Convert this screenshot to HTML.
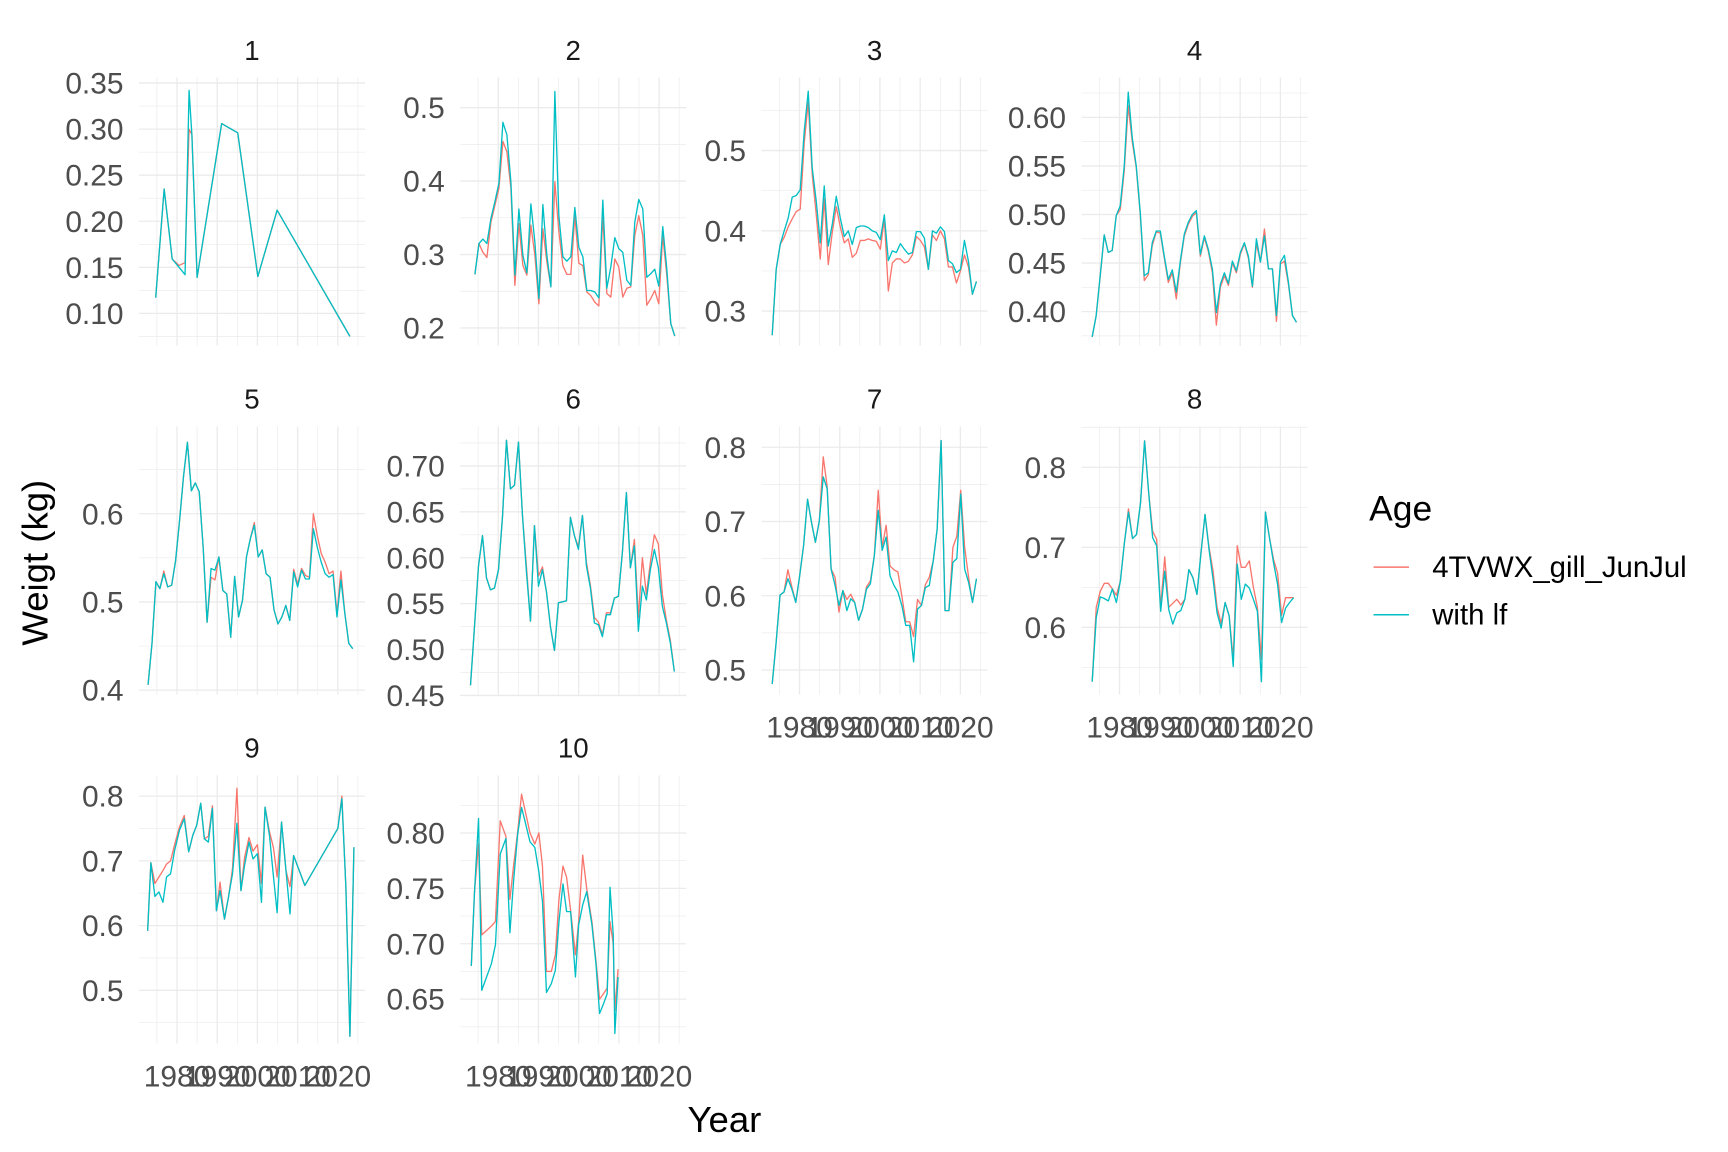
<!DOCTYPE html>
<html><head><meta charset="utf-8"><style>
html,body{margin:0;padding:0;background:#fff;}
svg{display:block;font-family:"Liberation Sans",Arial,sans-serif;}
</style></head><body>
<svg id="chart" width="1728" height="1152" viewBox="0 0 1560 1040" xmlns="http://www.w3.org/2000/svg">
<g id="panels"></g>
<text x="0" y="0" transform="translate(43,508) rotate(-90)" text-anchor="middle" font-size="33" fill="#000">Weigt (kg)</text>
<text x="654" y="1022" text-anchor="middle" font-size="33" fill="#000">Year</text>
<g>
<text x="1236" y="470" font-size="32" fill="#000">Age</text>
<line x1="1240" y1="512" x2="1272" y2="512" stroke="#F8766D" stroke-width="1.3"/>
<text x="1293" y="521" font-size="26.5" fill="#000">4TVWX_gill_JunJul</text>
<line x1="1240" y1="555" x2="1272" y2="555" stroke="#00BFC4" stroke-width="1.3"/>
<text x="1293" y="564" font-size="26.5" fill="#000">with lf</text>
</g>
</svg>
<script>
// ---- data ----
const p1Years=[1974.7,1976.8,1978.8,1980.5,1982,1983,1983.7,1985,1991.1,1995.1,2000.1,2004.9,2023];
const p1Teal=[0.117,0.235,0.159,0.150,0.142,0.342,0.294,0.139,0.306,0.296,0.140,0.212,0.075];
const p1Red=[0.117,0.235,0.159,0.152,0.155,0.300,0.294,0.139,0.306,0.296,0.140,0.212,0.075];
const p2Range=[1974.2,2023.9];
const p2Teal=[0.273,0.315,0.321,0.315,0.349,0.372,0.397,0.480,0.463,0.399,0.272,0.362,0.299,0.275,0.369,0.317,0.240,0.368,0.299,0.256,0.522,0.353,0.297,0.291,0.297,0.364,0.310,0.297,0.251,0.251,0.249,0.241,0.374,0.254,0.283,0.323,0.308,0.303,0.265,0.258,0.344,0.375,0.362,0.269,0.274,0.280,0.257,0.338,0.281,0.206,0.189];
const p2Red=[0.273,0.315,0.303,0.296,0.344,0.367,0.390,0.454,0.440,0.390,0.258,0.342,0.285,0.272,0.340,0.299,0.233,0.335,0.290,0.256,0.399,0.331,0.285,0.273,0.273,0.353,0.288,0.285,0.249,0.244,0.235,0.230,0.353,0.247,0.242,0.294,0.283,0.242,0.254,0.256,0.326,0.353,0.326,0.231,0.240,0.251,0.233,0.326,0.272,0.206,0.189];
const p3Range=[1973.2,2024];
const p3Teal=[0.270,0.352,0.383,0.400,0.416,0.442,0.444,0.451,0.524,0.574,0.478,0.437,0.385,0.456,0.381,0.408,0.443,0.416,0.393,0.400,0.383,0.404,0.406,0.406,0.404,0.400,0.398,0.389,0.420,0.363,0.375,0.373,0.384,0.377,0.371,0.373,0.399,0.399,0.391,0.352,0.400,0.397,0.405,0.399,0.363,0.359,0.348,0.352,0.388,0.362,0.321,0.337];
const p3Red=[0.270,0.352,0.383,0.392,0.405,0.415,0.424,0.427,0.510,0.560,0.470,0.420,0.365,0.440,0.358,0.398,0.430,0.405,0.385,0.390,0.367,0.372,0.388,0.388,0.390,0.388,0.387,0.377,0.415,0.325,0.360,0.365,0.365,0.360,0.362,0.370,0.393,0.388,0.380,0.352,0.395,0.388,0.400,0.390,0.355,0.355,0.335,0.350,0.370,0.355,0.321,0.337];
const p4Range=[1973.2,2024];
const p4Teal=[0.374,0.396,0.437,0.479,0.461,0.463,0.499,0.509,0.550,0.626,0.579,0.550,0.502,0.437,0.440,0.471,0.483,0.483,0.457,0.433,0.443,0.420,0.452,0.480,0.492,0.500,0.504,0.459,0.478,0.464,0.444,0.399,0.428,0.440,0.429,0.452,0.442,0.461,0.471,0.457,0.426,0.475,0.451,0.478,0.444,0.444,0.396,0.451,0.458,0.430,0.396,0.389];
const p4Red=[0.374,0.396,0.437,0.479,0.461,0.463,0.499,0.505,0.545,0.612,0.575,0.548,0.500,0.432,0.438,0.468,0.482,0.481,0.455,0.430,0.440,0.413,0.450,0.478,0.490,0.498,0.502,0.457,0.476,0.462,0.440,0.386,0.425,0.437,0.427,0.450,0.440,0.459,0.470,0.455,0.425,0.470,0.451,0.485,0.444,0.444,0.390,0.449,0.452,0.428,0.396,0.389];
const p5Range=[1972.8,2023.7];
const p5Teal=[0.406,0.453,0.523,0.515,0.532,0.517,0.519,0.547,0.592,0.642,0.681,0.626,0.635,0.625,0.562,0.477,0.538,0.536,0.551,0.513,0.509,0.460,0.529,0.483,0.502,0.551,0.572,0.587,0.551,0.559,0.532,0.528,0.491,0.475,0.483,0.496,0.479,0.534,0.517,0.536,0.526,0.526,0.583,0.562,0.545,0.532,0.528,0.531,0.483,0.525,0.487,0.453,0.447];
const p5Red=[0.406,0.453,0.523,0.515,0.535,0.517,0.519,0.547,0.592,0.642,0.681,0.626,0.635,0.625,0.562,0.477,0.528,0.525,0.551,0.513,0.509,0.460,0.529,0.483,0.502,0.551,0.572,0.590,0.551,0.559,0.532,0.528,0.491,0.475,0.483,0.496,0.479,0.537,0.520,0.538,0.530,0.528,0.600,0.575,0.555,0.545,0.532,0.535,0.487,0.535,0.487,0.453,0.447];
const p6Range=[1973.1,2023.8];
const p6Teal=[0.461,0.525,0.591,0.624,0.578,0.565,0.567,0.587,0.644,0.728,0.675,0.679,0.726,0.646,0.584,0.531,0.635,0.569,0.587,0.563,0.525,0.499,0.551,0.552,0.553,0.644,0.624,0.609,0.646,0.591,0.567,0.529,0.527,0.514,0.538,0.538,0.556,0.558,0.606,0.671,0.589,0.613,0.520,0.569,0.554,0.587,0.609,0.589,0.547,0.529,0.507,0.476];
const p6Red=[0.461,0.525,0.591,0.624,0.578,0.565,0.567,0.587,0.644,0.728,0.675,0.679,0.726,0.646,0.590,0.531,0.635,0.580,0.590,0.563,0.525,0.499,0.551,0.552,0.553,0.644,0.624,0.612,0.646,0.595,0.570,0.535,0.530,0.516,0.540,0.540,0.556,0.558,0.606,0.671,0.589,0.620,0.535,0.600,0.560,0.595,0.625,0.615,0.560,0.532,0.510,0.476];
const p7Range=[1973.2,2024];
const p7Teal=[0.481,0.537,0.601,0.605,0.623,0.609,0.591,0.627,0.668,0.730,0.699,0.672,0.701,0.760,0.744,0.636,0.614,0.587,0.607,0.580,0.596,0.591,0.567,0.582,0.609,0.616,0.654,0.715,0.661,0.679,0.627,0.614,0.605,0.587,0.560,0.560,0.511,0.582,0.587,0.611,0.614,0.647,0.690,0.809,0.580,0.580,0.645,0.650,0.737,0.636,0.618,0.591,0.623];
const p7Red=[0.481,0.537,0.601,0.605,0.635,0.612,0.591,0.627,0.668,0.730,0.699,0.672,0.701,0.787,0.747,0.636,0.625,0.578,0.607,0.595,0.602,0.591,0.567,0.582,0.612,0.620,0.654,0.742,0.665,0.695,0.640,0.635,0.632,0.600,0.565,0.565,0.545,0.595,0.587,0.615,0.625,0.647,0.690,0.809,0.580,0.580,0.665,0.680,0.742,0.665,0.625,0.591,0.623];
const p8Range=[1973.2,2023.3];
const p8Teal=[0.532,0.612,0.638,0.636,0.633,0.648,0.631,0.658,0.706,0.744,0.711,0.716,0.756,0.833,0.769,0.712,0.702,0.620,0.670,0.622,0.604,0.618,0.621,0.635,0.672,0.662,0.641,0.693,0.741,0.697,0.660,0.618,0.599,0.631,0.614,0.551,0.679,0.635,0.654,0.649,0.635,0.620,0.532,0.744,0.712,0.681,0.654,0.606,0.624,0.631,0.637];
const p8Red=[0.532,0.625,0.645,0.655,0.655,0.648,0.640,0.658,0.706,0.748,0.711,0.716,0.756,0.833,0.769,0.720,0.710,0.625,0.688,0.625,0.630,0.635,0.628,0.635,0.672,0.662,0.641,0.693,0.741,0.700,0.670,0.625,0.605,0.631,0.614,0.560,0.702,0.675,0.675,0.683,0.650,0.625,0.560,0.744,0.712,0.685,0.668,0.615,0.637,0.637,0.637];
const p9Years=[1972.7,1973.5,1974.5,1975.5,1976.5,1977.4,1978.4,1979.4,1980.6,1981.8,1982.9,1983.9,1984.9,1985.9,1986.8,1987.8,1988.8,1989.8,1990.7,1991.8,1992.8,1993.8,1994.9,1995.9,1996.8,1997.9,1998.9,2000,2001,2001.9,2003,2004,2004.9,2006,2007.1,2008.1,2009,2011.8,2020,2021,2022,2022.4,2023,2024];
const p9Teal=[0.592,0.697,0.645,0.652,0.636,0.675,0.680,0.716,0.747,0.765,0.714,0.739,0.755,0.789,0.734,0.729,0.781,0.623,0.654,0.610,0.644,0.680,0.758,0.654,0.693,0.729,0.703,0.711,0.636,0.783,0.739,0.675,0.620,0.760,0.685,0.618,0.708,0.662,0.750,0.796,0.659,0.566,0.429,0.721];
const p9Red=[0.592,0.697,0.665,0.675,0.685,0.695,0.700,0.725,0.752,0.770,0.714,0.739,0.755,0.789,0.734,0.738,0.785,0.623,0.667,0.610,0.644,0.688,0.812,0.654,0.705,0.736,0.715,0.725,0.665,0.783,0.745,0.720,0.675,0.760,0.685,0.660,0.708,0.662,0.750,0.800,0.659,0.566,0.429,0.721];
const p10Years=[1973.3,1974.1,1975.1,1975.9,1977.1,1978.3,1979.3,1980.5,1981.9,1982.9,1983.8,1984.8,1985.8,1986.7,1987.9,1989.1,1990.1,1991,1992,1993.2,1994.2,1995.1,1996.1,1997,1998,1999.2,2000,2001,2002,2003.3,2004.3,2005.2,2006.2,2007.1,2007.8,2008.6,2009,2009.8];
const p10Teal=[0.680,0.747,0.813,0.658,0.670,0.682,0.699,0.781,0.795,0.710,0.756,0.798,0.823,0.810,0.792,0.787,0.765,0.738,0.656,0.664,0.676,0.720,0.754,0.729,0.729,0.670,0.717,0.735,0.747,0.717,0.682,0.637,0.646,0.655,0.751,0.708,0.619,0.670];
const p10Red=[0.680,0.747,0.790,0.708,0.712,0.716,0.720,0.811,0.797,0.740,0.770,0.800,0.835,0.820,0.800,0.790,0.800,0.770,0.675,0.675,0.690,0.740,0.770,0.760,0.730,0.690,0.720,0.780,0.750,0.720,0.685,0.650,0.655,0.660,0.720,0.700,0.640,0.677];
const yTicks=[[0.10,0.15,0.20,0.25,0.30,0.35],[0.2,0.3,0.4,0.5],[0.3,0.4,0.5],[0.40,0.45,0.50,0.55,0.60],[0.4,0.5,0.6],[0.45,0.50,0.55,0.60,0.65,0.70],[0.5,0.6,0.7,0.8],[0.6,0.7,0.8],[0.5,0.6,0.7,0.8],[0.65,0.70,0.75,0.80]];
const yDecimals=[2,1,1,2,1,2,1,1,1,2];
const yDomains=[[0.065,0.356],[0.176,0.541],[0.257,0.591],[0.365,0.641],[0.395,0.699],[0.451,0.743],[0.467,0.828],[0.516,0.851],[0.418,0.832],[0.610,0.852]];
const xTicks=[1980,1990,2000,2010,2020];
const xMinor=[1975,1985,1995,2005,2015,2025];
const xDomain=[1970.55,2026.75];
const panelTitles=["1","2","3","4","5","6","7","8","9","10"];

// ---- layout ----
const colLeft=[125.5,415.5,687.5,976.4], rowTop=[70,385,700], PW=204, PH=242;
const NS="http://www.w3.org/2000/svg";
const root=document.getElementById('panels');
function mk(tag,attrs,parent){const e=document.createElementNS(NS,tag);for(const k in attrs)e.setAttribute(k,attrs[k]);(parent||root).appendChild(e);return e;}
function spread(range,n){const a=[];for(let i=0;i<n;i++)a.push(range[0]+(range[1]-range[0])*i/(n-1));return a;}
const series=[
 [p1Years,p1Teal,p1Red],
 [spread(p2Range,p2Teal.length),p2Teal,p2Red],
 [spread(p3Range,p3Teal.length),p3Teal,p3Red],
 [spread(p4Range,p4Teal.length),p4Teal,p4Red],
 [spread(p5Range,p5Teal.length),p5Teal,p5Red],
 [spread(p6Range,p6Teal.length),p6Teal,p6Red],
 [spread(p7Range,p7Teal.length),p7Teal,p7Red],
 [spread(p8Range,p8Teal.length),p8Teal,p8Red],
 [p9Years,p9Teal,p9Red],
 [p10Years,p10Teal,p10Red]
];
const showX=[false,false,false,false,false,false,true,true,true,true];
for(let p=0;p<10;p++){
  const L=colLeft[p%4], T=rowTop[Math.floor(p/4)];
  const dom=yDomains[p];
  const xs=v=>L+(v-xDomain[0])/(xDomain[1]-xDomain[0])*PW;
  const ys=v=>T+PH-(v-dom[0])/(dom[1]-dom[0])*PH;
  const g=mk('g',{});
  
  
  const t=yTicks[p], step=t[1]-t[0];
  for(let v=t[0]-step/2; v<=dom[1]+1e-9; v+=step){
    if(v<dom[0])continue;
    const l=mk('line',{x1:L,x2:L+PW,y1:ys(v),y2:ys(v),stroke:'#ebebeb','stroke-width':0.6},g);
    
    
  }
  xMinor.forEach(v=>{if(xs(v)<=L+PW+0.5){const l=mk('line',{x1:xs(v),x2:xs(v),y1:T,y2:T+PH,stroke:'#ebebeb','stroke-width':0.6},g);
    
    }});
  t.forEach(v=>{const l=mk('line',{x1:L,x2:L+PW,y1:ys(v),y2:ys(v),stroke:'#ebebeb','stroke-width':1.2},g);
    
    
    const tx=mk('text',{x:L-14,y:ys(v)+9.5,'text-anchor':'end','font-size':27,fill:'#4d4d4d'},g);
    tx.textContent=v.toFixed(yDecimals[p]);
    
    });
  xTicks.forEach(v=>{const l=mk('line',{x1:xs(v),x2:xs(v),y1:T,y2:T+PH,stroke:'#ebebeb','stroke-width':1.2},g);
    
    
    if(showX[p]){const tx=mk('text',{x:xs(v),y:T+PH+39,'text-anchor':'middle','font-size':27,fill:'#4d4d4d'},g);
      tx.textContent=String(v);
      
      }});
  const st=mk('text',{x:L+PW/2,y:T-16,'text-anchor':'middle','font-size':25,fill:'#1a1a1a'},g);
  st.textContent=panelTitles[p];
  
  
  const [yrs,teal,red]=series[p];
  const path=(vals)=>vals.map((v,i)=>(i?'L':'M')+xs(yrs[i]).toFixed(2)+','+ys(v).toFixed(2)).join('');
  const r=mk('path',{d:path(red),fill:'none',stroke:'#F8766D','stroke-width':1.2,'stroke-linejoin':'round'},g);
  
  
  const c=mk('path',{d:path(teal),fill:'none',stroke:'#00BFC4','stroke-width':1.2,'stroke-linejoin':'round'},g);
  
  
}
</script>
</body></html>
